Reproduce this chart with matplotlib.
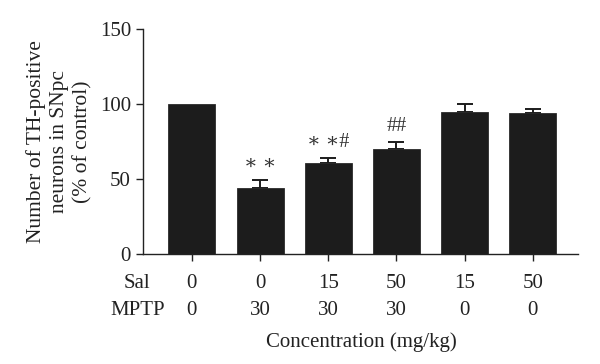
import matplotlib
matplotlib.use("Agg")
import matplotlib.pyplot as plt
from matplotlib.transforms import blended_transform_factory

plt.rcParams['font.family'] = ['Liberation Serif', 'DejaVu Serif', 'DejaVu Sans']

sal = ["0", "0", "15", "50", "15", "50"]
mptp = ["0", "30", "30", "30", "0", "0"]
values = [100, 44.2, 60.4, 70.0, 94.9, 93.8]
errors = [0, 5.1, 3.8, 4.9, 4.9, 2.9]
marks = ["", "∗ ∗", "∗ ∗#", "##", "", ""]

FS = 15
TC = "#222222"

fig = plt.figure(figsize=(6, 3.64), dpi=100)
ax = fig.add_axes([0.238, 0.302, 0.725, 0.618])

x = list(range(len(values)))
ax.bar(x, values, width=0.69, color="#1c1c1c", edgecolor="#2a2a2a", linewidth=0.6, zorder=2)
for xi, v, e in zip(x, values, errors):
    if e > 0:
        ax.errorbar([xi], [v], yerr=[[0], [e]], fmt="none",
                    ecolor="#1c1c1c", elinewidth=1.4, capsize=5.5, capthick=1.4, zorder=1)

for xi, v, e, m in zip(x, values, errors, marks):
    if m:
        ax.text(xi, v + e + 4, m, ha="center", va="bottom", fontsize=14.5, color="#333333")

ax.set_xlim(-0.72, 5.66)
ax.set_ylim(0, 150)
ax.set_yticks([0, 50, 100, 150])
ax.set_xticks(x)
ax.set_xticklabels([])
ax.spines['top'].set_visible(False)
ax.spines['right'].set_visible(False)
for s in ['left', 'bottom']:
    ax.spines[s].set_linewidth(1.0)
    ax.spines[s].set_color(TC)
ax.tick_params(axis='both', direction='out', length=5, width=1.0, colors=TC,
               labelsize=FS, labelcolor=TC)

ax.set_ylabel("Number of TH-positive\nneurons in SNpc\n(% of control)", fontsize=15.5,
              color=TC, labelpad=5, linespacing=1.3)

tr = blended_transform_factory(ax.transData, ax.transAxes)
for xi, s, m in zip(x, sal, mptp):
    ax.text(xi, -0.133, s, transform=tr, ha="center", va="center", fontsize=FS, color=TC)
    ax.text(xi, -0.253, m, transform=tr, ha="center", va="center", fontsize=FS, color=TC)
ax.text(-0.80, -0.133, "Sal", transform=tr, ha="center", va="center", fontsize=FS, color=TC)
ax.text(-0.80, -0.253, "MPTP", transform=tr, ha="center", va="center", fontsize=FS, color=TC)
ax.text(2.48, -0.39, "Concentration (mg/kg)", transform=tr, ha="center", va="center",
        fontsize=FS, color=TC)

fig.savefig("out.png", dpi=100)
